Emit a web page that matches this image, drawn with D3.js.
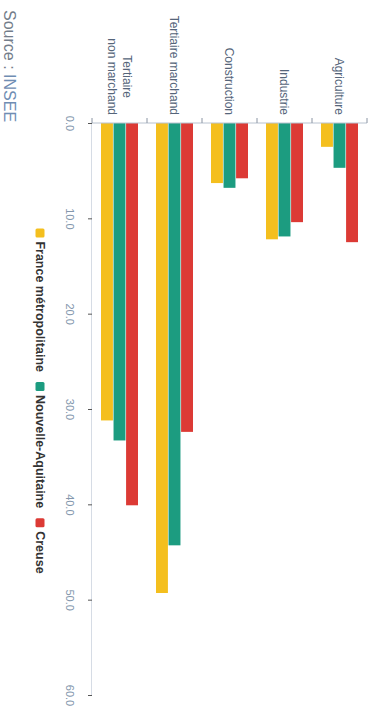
<!DOCTYPE html>
<html>
<head>
<meta charset="utf-8">
<script src="https://cdn.jsdelivr.net/npm/d3@7"></script>
<style>
  html, body { margin: 0; padding: 0; background: #fff; }
  svg { display: block; font-family: "Liberation Sans", Arial, sans-serif; }
</style>
</head>
<body>
<svg id="chart" width="376" height="711"></svg>
<script>
// Emploi par grand secteur d'activité (%)
const categories = ["Agriculture", "Industrie", "Construction", "Tertiaire marchand", "Tertiaire non marchand"];
const seriesNames = ["France métropolitaine", "Nouvelle-Aquitaine", "Creuse"];
const franceValues = [2.5, 12.2, 6.3, 49.3, 31.2];
const aquitaineValues = [4.7, 11.9, 6.8, 44.3, 33.3];
const creuseValues = [12.5, 10.4, 5.8, 32.4, 40.1];
const valueTicks = [0, 10, 20, 30, 40, 50, 60];
const seriesColors = ["#f4bf1e", "#1c9c80", "#dc3a35"];
const sourceLabel = "Source : ";
const sourceName = "INSEE";

const seriesValues = [franceValues, aquitaineValues, creuseValues];

const svg = d3.select("#chart");
// the chart is laid out landscape (711 x 376), then turned a quarter turn clockwise
const root = svg.append("g").attr("transform", `translate(${376},0) rotate(90)`);

const x = d3.scaleLinear().domain([0, 60]).range([123, 695]);
const y = d3.scaleBand().domain(categories).range([9, 284]).padding(0);
const inner = d3.scaleBand()
  .domain(seriesNames.slice().reverse())
  .range([0, 37])
  .paddingInner(0.05);
const color = d3.scaleOrdinal().domain(seriesNames).range(seriesColors);

// value axis
const xAxis = d3.axisBottom(x)
  .tickValues(valueTicks)
  .tickFormat(d3.format(".1f"))
  .tickSize(4)
  .tickSizeOuter(0)
  .tickPadding(14);
const gx = root.append("g").attr("transform", "translate(0,284)").call(xAxis);
gx.select(".domain").attr("stroke", "#d6dce5");
gx.selectAll(".tick line").attr("stroke", "#555");
gx.selectAll(".tick text").attr("fill", "#8497ad").attr("font-size", 11)
  .attr("font-family", "'Liberation Sans', Arial, sans-serif");

// bars
const groupOffset = (y.bandwidth() - 37) / 2;
const groups = root.append("g").selectAll("g")
  .data(categories)
  .join("g")
  .attr("transform", d => `translate(0,${y(d) + groupOffset})`);

groups.selectAll("rect")
  .data((c, i) => seriesNames.map((s, k) => ({ series: s, value: seriesValues[k][i] })))
  .join("rect")
  .attr("x", x(0))
  .attr("y", d => inner(d.series))
  .attr("width", d => x(d.value) - x(0))
  .attr("height", inner.bandwidth())
  .attr("fill", d => color(d.series));

// category axis
const bounds = categories.map(c => y(c)).concat([y.range()[1]]);
root.append("line")
  .attr("x1", x(0)).attr("x2", x(0))
  .attr("y1", y.range()[0]).attr("y2", y.range()[1])
  .attr("stroke", "#b8c2cf");
root.append("g").selectAll("line")
  .data(bounds)
  .join("line")
  .attr("x1", x(0) - 5).attr("x2", x(0))
  .attr("y1", d => d).attr("y2", d => d)
  .attr("stroke", "#8a94a3");

// category labels (long names wrap on two lines)
const labelLines = {
  "Tertiaire non marchand": ["Tertiaire", "non marchand"]
};
const labels = root.append("g")
  .attr("font-size", 12)
  .attr("fill", "#55657a");
categories.forEach(c => {
  const lines = labelLines[c] || [c];
  const cy = y(c) + y.bandwidth() / 2;
  const lh = 15;
  const g = labels.append("g");
  const texts = lines.map((t, i) => g.append("text")
    .attr("y", cy + (i - (lines.length - 1) / 2) * lh)
    .attr("dy", "0.35em")
    .attr("text-anchor", "middle")
    .text(t));
  const maxW = d3.max(texts, t => t.node().getComputedTextLength());
  texts.forEach(t => t.attr("x", 115 - maxW / 2));
});

// legend
const legend = root.append("g");
const legendY = 336;
let cursor = 0;
seriesNames.forEach((s, i) => {
  const item = legend.append("g").attr("transform", `translate(${cursor},0)`);
  item.append("rect")
    .attr("x", 0).attr("y", legendY - 4.5)
    .attr("width", 9).attr("height", 9)
    .attr("rx", 1.5)
    .attr("fill", color(s));
  const t = item.append("text")
    .attr("x", 13).attr("y", legendY)
    .attr("dy", "0.35em")
    .attr("font-size", 12.5)
    .attr("font-weight", "bold")
    .attr("fill", "#333")
    .text(s);
  cursor += 13 + t.node().getComputedTextLength() + 10;
});
const legendWidth = cursor - 10;
legend.attr("transform", `translate(${401 - legendWidth / 2},0)`);

// source
const src = root.append("text")
  .attr("x", 10).attr("y", 372)
  .attr("font-size", 16);
src.append("tspan").attr("fill", "#737d8a").text(sourceLabel);
src.append("tspan").attr("fill", "#6f8db3").text(sourceName);
</script>
</body>
</html>
